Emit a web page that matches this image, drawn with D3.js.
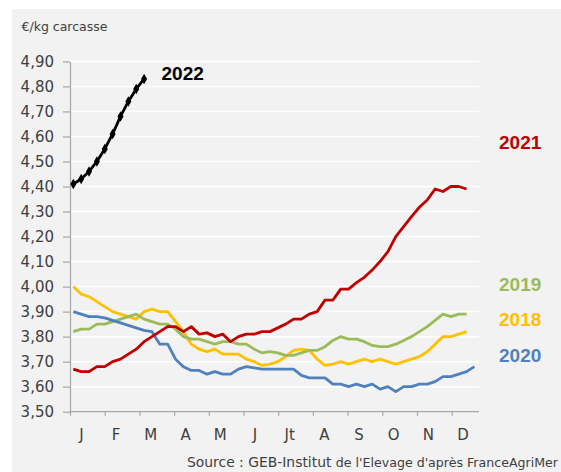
<!DOCTYPE html>
<html><head><meta charset="utf-8">
<script src="https://cdn.jsdelivr.net/npm/d3@7"></script>
<style>body{margin:0;background:#fff} svg{display:block}</style>
</head><body>
<svg id="c" width="561" height="472"></svg>
<script>
// ---- data ----
const months = ["J","F","M","A","M","J","Jt","A","S","O","N","D"];
const yTicks = [3.5,3.6,3.7,3.8,3.9,4.0,4.1,4.2,4.3,4.4,4.5,4.6,4.7,4.8,4.9];
const years = ["2018","2019","2020","2021","2022"];
const s2018 = [4.00,3.97,3.96,3.94,3.92,3.90,3.89,3.88,3.87,3.90,3.91,3.90,3.90,3.86,3.82,3.77,3.75,3.74,3.75,3.73,3.73,3.73,3.71,3.70,3.685,3.69,3.70,3.72,3.745,3.75,3.745,3.71,3.685,3.69,3.70,3.69,3.70,3.71,3.70,3.71,3.70,3.69,3.70,3.71,3.72,3.74,3.77,3.80,3.80,3.81,3.82];
const s2019 = [3.82,3.83,3.83,3.85,3.85,3.86,3.87,3.88,3.89,3.87,3.86,3.85,3.85,3.83,3.80,3.79,3.79,3.78,3.77,3.78,3.78,3.77,3.77,3.75,3.735,3.74,3.735,3.725,3.725,3.735,3.745,3.745,3.76,3.785,3.80,3.79,3.79,3.78,3.765,3.76,3.76,3.77,3.785,3.80,3.82,3.84,3.865,3.89,3.88,3.89,3.89];
const s2020 = [3.90,3.89,3.88,3.88,3.875,3.865,3.855,3.845,3.835,3.825,3.82,3.77,3.77,3.71,3.68,3.665,3.665,3.65,3.66,3.65,3.65,3.67,3.68,3.675,3.67,3.67,3.67,3.67,3.67,3.645,3.635,3.635,3.635,3.61,3.61,3.60,3.61,3.60,3.61,3.59,3.60,3.58,3.60,3.60,3.61,3.61,3.62,3.64,3.64,3.65,3.66,3.68];
const s2021 = [3.67,3.66,3.66,3.68,3.68,3.70,3.71,3.73,3.75,3.78,3.80,3.82,3.84,3.84,3.82,3.84,3.81,3.815,3.80,3.81,3.78,3.80,3.81,3.81,3.82,3.82,3.835,3.85,3.87,3.87,3.89,3.90,3.946,3.946,3.99,3.99,4.016,4.037,4.066,4.10,4.14,4.20,4.24,4.28,4.317,4.346,4.39,4.38,4.40,4.40,4.39];
const s2022 = [4.41,4.43,4.46,4.50,4.55,4.61,4.68,4.74,4.79,4.83];
const series = [s2018, s2019, s2020, s2021, s2022];
const colors = ["#FFC000","#9BBB59","#4F81BD","#C00000","#000000"];

// ---- layout ----
const svg = d3.select("#c");
svg.append("rect").attr("x",12).attr("y",9).attr("width",549).attr("height",463).attr("fill","#F2F2F2");

const L = 70, R = 479, T = 61.4, B = 411.7;
const x = d3.scaleLinear().domain([0,52]).range([L,R]);          // weeks
const mx = d3.scaleLinear().domain([0,11]).range([L,451.7]);     // month ticks
const y = d3.scaleLinear().domain([3.5,4.9]).range([B,T]);

// gridlines
svg.append("g").selectAll("line").data(yTicks.slice(1)).join("line")
  .attr("x1",L).attr("x2",R).attr("y1",d=>y(d)).attr("y2",d=>y(d))
  .attr("stroke","#fff").attr("stroke-width",1.5);

// y axis
const yAxis = svg.append("g").attr("transform",`translate(${L},0)`)
  .call(d3.axisLeft(y).tickValues(yTicks).tickSize(7).tickSizeOuter(0).tickPadding(9)
    .tickFormat(d=>d.toFixed(2).replace(".",",")));
yAxis.selectAll("path,line").attr("stroke","#A6A6A6").attr("stroke-width",1.2);
yAxis.selectAll("text").attr("font-family","DejaVu Sans").attr("font-size",15).attr("fill","#404040");

// x axis
svg.append("line").attr("x1",L).attr("x2",R).attr("y1",B).attr("y2",B)
  .attr("stroke","#A6A6A6").attr("stroke-width",1.2);
const xAxis = svg.append("g").attr("transform",`translate(0,${B})`)
  .call(d3.axisBottom(mx).tickValues(d3.range(12)).tickSize(4).tickSizeOuter(0).tickFormat(""));
xAxis.select(".domain").remove();
xAxis.selectAll("line").attr("stroke","#A6A6A6").attr("stroke-width",1.2);
svg.append("g").selectAll("text").data(months).join("text")
  .attr("x",(d,i)=>mx(i+0.33)).attr("y",439.5).attr("text-anchor","middle")
  .attr("font-family","DejaVu Sans").attr("font-size",15).attr("fill","#404040").text(d=>d);

// y title
svg.append("text").attr("x",21.5).attr("y",30.5).attr("font-family","DejaVu Sans")
  .attr("font-size",12.5).attr("fill","#404040").text("€/kg carcasse");

// lines
const line = d3.line().x((d,i)=>x(i+0.42)).y(d=>y(d));
svg.append("g").selectAll("path").data(series).join("path")
  .attr("d",line).attr("fill","none").attr("stroke",(d,i)=>colors[i])
  .attr("stroke-width",2.8).attr("stroke-linejoin","round");

// markers 2022
svg.append("g").selectAll("path").data(s2022).join("path")
  .attr("transform",(d,i)=>`translate(${x(i+0.42)},${y(d)})`)
  .attr("d",d3.symbol(d3.symbolDiamond,32)).attr("fill","#000");

// series labels
const labels = [
  {t:years[4], x:161.5, y:79.5, c:colors[4]},
  {t:years[3], x:499, y:149, c:colors[3]},
  {t:years[1], x:499, y:290.5, c:colors[1]},
  {t:years[0], x:499, y:325.5, c:colors[0]},
  {t:years[2], x:499, y:362, c:colors[2]}
];
svg.append("g").selectAll("text").data(labels).join("text")
  .attr("x",d=>d.x).attr("y",d=>d.y).attr("fill",d=>d.c)
  .attr("font-family","Liberation Sans").attr("font-weight","bold").attr("font-size",19)
  .text(d=>d.t);

// source
const src = svg.append("text").attr("x",558).attr("y",467).attr("text-anchor","end")
  .attr("font-family","DejaVu Sans").attr("fill","#404040");
src.append("tspan").attr("font-size",13.9).text("Source : GEB-Institut ");
src.append("tspan").attr("font-size",12.6).text("de l'Elevage d'après FranceAgriMer");
</script>
</body></html>
